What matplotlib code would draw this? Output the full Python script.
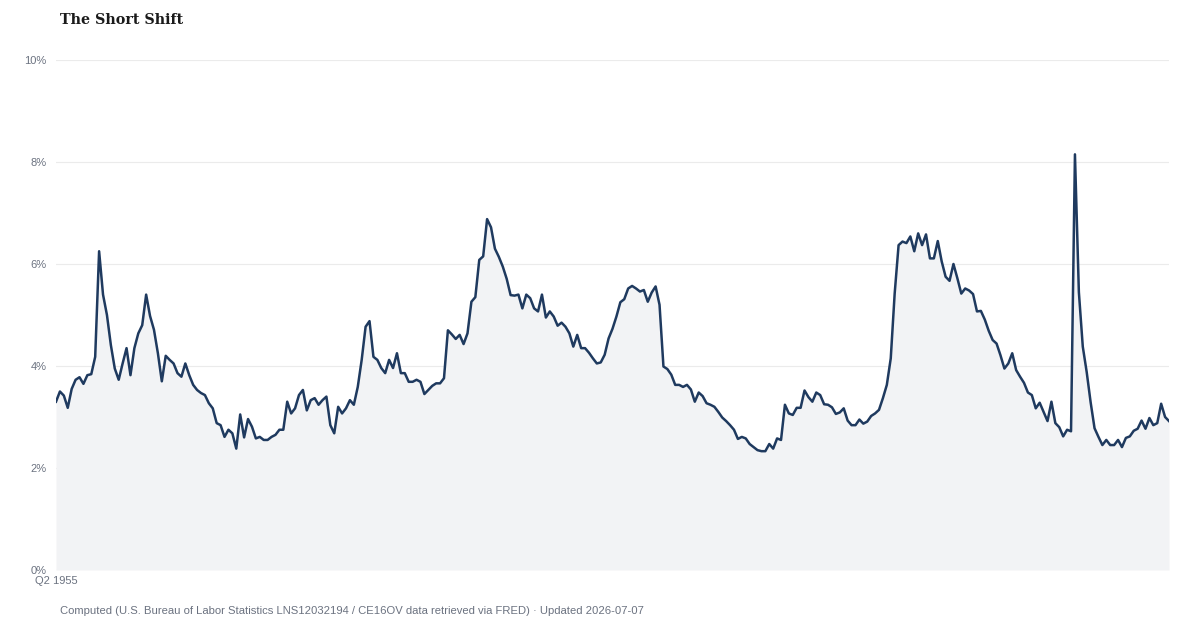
import numpy as np
import matplotlib
matplotlib.use("Agg")
import matplotlib.pyplot as plt

# Share of part-time for economic reasons, quarterly, Q2 1955 onward (percent)
share = [
    3.30, 3.50, 3.42, 3.18, 3.55, 3.73, 3.78, 3.65, 3.82, 3.84,
    4.18, 6.25, 5.40, 5.00, 4.41, 3.95, 3.73, 4.05, 4.35, 3.82,
    4.35, 4.64, 4.80, 5.40, 4.98, 4.71, 4.25, 3.70, 4.20, 4.12,
    4.05, 3.86, 3.79, 4.05, 3.82, 3.63, 3.53, 3.47, 3.43, 3.27,
    3.17, 2.88, 2.84, 2.61, 2.75, 2.68, 2.38, 3.05, 2.60, 2.96,
    2.81, 2.58, 2.61, 2.55, 2.55, 2.61, 2.65, 2.75, 2.75, 3.30,
    3.07, 3.17, 3.43, 3.53, 3.13, 3.33, 3.37, 3.24, 3.33, 3.40,
    2.84, 2.68, 3.20, 3.07, 3.17, 3.33, 3.24, 3.59, 4.12, 4.77,
    4.88, 4.18, 4.12, 3.96, 3.86, 4.12, 3.96, 4.25, 3.86, 3.86,
    3.69, 3.69, 3.73, 3.69, 3.45, 3.53, 3.61, 3.66, 3.66, 3.76,
    4.70, 4.62, 4.53, 4.61, 4.43, 4.64, 5.26, 5.35, 6.08, 6.15,
    6.88, 6.72, 6.30, 6.14, 5.95, 5.71, 5.39, 5.38, 5.40, 5.13,
    5.40, 5.33, 5.13, 5.07, 5.40, 4.95, 5.07, 4.97, 4.79, 4.85,
    4.77, 4.64, 4.38, 4.61, 4.35, 4.35, 4.26, 4.15, 4.05, 4.07,
    4.22, 4.54, 4.73, 4.97, 5.25, 5.31, 5.52, 5.57, 5.52, 5.46,
    5.49, 5.26, 5.44, 5.56, 5.20, 3.99, 3.94, 3.83, 3.63, 3.63,
    3.59, 3.63, 3.54, 3.30, 3.48, 3.41, 3.27, 3.24, 3.20, 3.10,
    2.99, 2.92, 2.84, 2.75, 2.57, 2.61, 2.58, 2.47, 2.41, 2.35,
    2.33, 2.33, 2.47, 2.38, 2.58, 2.55, 3.24, 3.07, 3.04, 3.18,
    3.18, 3.52, 3.39, 3.30, 3.48, 3.43, 3.25, 3.24, 3.19, 3.06,
    3.09, 3.17, 2.93, 2.84, 2.84, 2.95, 2.87, 2.91, 3.02, 3.07,
    3.14, 3.37, 3.63, 4.15, 5.42, 6.37, 6.44, 6.41, 6.54, 6.25,
    6.60, 6.37, 6.58, 6.11, 6.11, 6.45, 6.05, 5.75, 5.67, 6.00,
    5.72, 5.42, 5.52, 5.48, 5.41, 5.07, 5.08, 4.91, 4.69, 4.51,
    4.44, 4.21, 3.95, 4.05, 4.25, 3.92, 3.79, 3.67, 3.48, 3.43,
    3.17, 3.28, 3.10, 2.92, 3.30, 2.88, 2.80, 2.62, 2.75, 2.72,
    8.15, 5.45, 4.38, 3.88, 3.29, 2.78, 2.61, 2.45, 2.55, 2.45,
    2.45, 2.55, 2.41, 2.59, 2.62, 2.73, 2.77, 2.93, 2.77, 2.98,
    2.84, 2.88, 3.26, 3.00, 2.92,
]
start_label = "Q2 1955"
y_ticks = [0, 2, 4, 6, 8, 10]

title = "The Short Shift"
source = ("Computed (U.S. Bureau of Labor Statistics LNS12032194 / CE16OV data "
          "retrieved via FRED) \u00b7 Updated 2026-07-07")

plt.rcParams["font.family"] = ["Liberation Sans", "DejaVu Sans"]

fig = plt.figure(figsize=(12, 6.3), dpi=100)
ax = fig.add_axes([56 / 1200, 60 / 630, 1113 / 1200, 510 / 630])

quarters = np.arange(len(share))
ax.fill_between(quarters, share, 0, color="#f2f3f5", lw=0, zorder=1)
ax.plot(quarters, share, color="#1f3a5f", lw=1.8, solid_joinstyle="round", zorder=3)

ax.set_xlim(0, len(share) - 1)
ax.set_ylim(0, 10)
ax.set_yticks(y_ticks, [f"{t}%" for t in y_ticks])
ax.set_xticks([0], [start_label])
ax.grid(axis="y", color="#ebebeb", lw=0.8, zorder=0)
ax.set_axisbelow(True)
for s in ax.spines.values():
    s.set_visible(False)
ax.tick_params(length=0, colors="#6b7280", labelsize=8)
ax.tick_params(axis="y", pad=7)
ax.tick_params(axis="x", pad=4)

fig.text(60 / 1200, 1 - 20 / 630, title, fontfamily="DejaVu Serif",
         fontweight="bold", fontsize=10.3, color="#1a1a1a", va="center")
fig.text(60 / 1200, 1 - 611 / 630, source, fontsize=8.1, color="#6b7280", va="center")

fig.savefig("out.png", dpi=100)
